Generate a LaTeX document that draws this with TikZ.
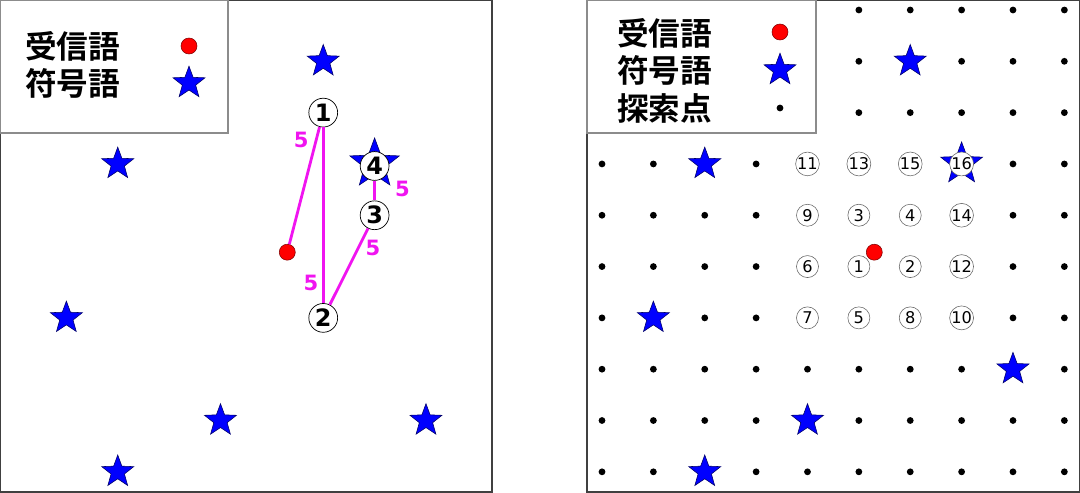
\documentclass[tikz,border=0pt]{standalone}
\usepackage{fontspec}
\usetikzlibrary{shapes.geometric}
\newfontfamily\jpfont{Noto Sans CJK JP Bold}
\newfontfamily\numfont{DejaVu Sans}
\definecolor{routecol}{RGB}{240,20,240}

\tikzset{
  panel/.style={draw=black!75, line width=0.8pt},
  legendbox/.style={draw=black!45, line width=0.8pt, fill=white},
  legendtext/.style={anchor=west, inner sep=0pt, font=\jpfont\fontsize{22.5pt}{24pt}\selectfont},
  codeword/.style={star, star points=5, star point ratio=2.4, fill=blue, draw=blue!40!black, line width=0.4pt, minimum size=0.84cm, inner sep=0pt},
  received/.style={circle, fill=red, draw=red!50!black, line width=0.4pt, minimum size=0.4cm, inner sep=0pt},
  searchpt/.style={circle, fill=black, minimum size=0.17cm, inner sep=0pt},
  visit/.style={circle, fill=white, draw=black, line width=0.5pt, minimum size=0.72cm, inner sep=0pt, font=\numfont\bfseries\fontsize{17pt}{17pt}\selectfont},
  order/.style={circle, fill=white, draw=black!60, line width=0.4pt, minimum size=0.55cm, inner sep=0pt, font=\numfont\fontsize{11.5pt}{11.5pt}\selectfont},
  route/.style={draw=routecol, line width=2pt},
  weight/.style={text=routecol, inner sep=0pt, font=\numfont\bfseries\fontsize{15pt}{15pt}\selectfont},
}

\begin{document}
\begin{tikzpicture}[x=0.025cm, y=-0.025cm]
    \useasboundingbox (0,0) rectangle (1080,493);

    % left panel
    \draw[panel] (0.5,0.5) rectangle (492,492);
    \begin{scope}[shift={(15,10)}, x=1.284cm, y=-1.2825cm]
        \node[codeword] (c1) at (6,1) {};
        \node[codeword] (c2) at (2,3) {};
        \node[codeword] (c3) at (1,6) {};
        \node[codeword] (c4) at (4,8) {};
        \node[codeword] (c5) at (8,8) {};
        \node[codeword] (c6) at (2,9) {};
        \node[codeword, minimum size=1.3cm] (c7) at (7,3) {};

        \node[visit] (v1) at (6,2) {1};
        \node[visit] (v2) at (6,6) {2};
        \node[visit] (v3) at (7,4) {3};
        \node[visit] (v4) at (7,3.04) {4};
        \node[received] (rx) at (5.3,4.72) {};

        \draw[route] (rx) -- (v1);
        \draw[route] (v1) -- (v2);
        \draw[route] (v2) -- (v3);
        \draw[route] (v3) -- (v4);

        \node[weight] (w1) at (5.57,2.53) {5};
        \node[weight] (w2) at (5.76,5.32) {5};
        \node[weight] (w3) at (6.97,4.64) {5};
        \node[weight] (w4) at (7.54,3.49) {5};
    \end{scope}

    \draw[legendbox] (0.5,0.5) rectangle (228,133);
    \node[legendtext] (lrx) at (25,46) {受信語};
    \node[legendtext] (lcw) at (25,83) {符号語};
    \node[received] (mrx) at (189,46) {};
    \node[codeword] (mcw) at (189,83) {};

    % right panel
    \draw[panel] (587,0.5) rectangle (1079.5,492);
    \begin{scope}[shift={(602,10)}, x=1.284cm, y=-1.2825cm]
        \foreach \r/\cols in {0/{5,6,7,8,9}, 1/{5,7,8,9}, 2/{5,6,7,8,9},
                3/{0,1,3,8,9}, 4/{0,1,2,3,8,9}, 5/{0,1,2,3,8,9},
                6/{0,2,3,8,9}, 7/{0,1,2,3,4,5,6,7,9},
                8/{0,1,2,3,5,6,7,8,9}, 9/{0,1,3,4,5,6,7,8,9}}
            \foreach \c in \cols
                \node[searchpt] (p-\r-\c) at (\c,\r) {};

        \foreach \c/\r [count=\i] in {6/1, 2/3, 1/6, 8/7, 4/8, 2/9}
            \node[codeword] (d\i) at (\c,\r) {};
        \node[codeword, minimum size=1.1cm] (d7) at (7,3) {};

        \foreach \c/\r/\k in {4/3/11, 5/3/13, 6/3/15, 7/3/16,
                4/4/9, 5/4/3, 6/4/4, 7/4/14,
                4/5/6, 5/5/1, 6/5/2, 7/5/12,
                4/6/7, 5/6/5, 6/6/8, 7/6/10}
            \node[order] (o\k) at (\c,\r) {\k};

        \node[received] (ry) at (5.3,4.72) {};
    \end{scope}

    \draw[legendbox] (587,0.5) rectangle (816,133);
    \node[legendtext] (rrx) at (617,33) {受信語};
    \node[legendtext] (rcw) at (617,70) {符号語};
    \node[legendtext] (rsp) at (617,108) {探索点};
    \node[received] (nrx) at (780,32) {};
    \node[codeword] (ncw) at (780,70) {};
    \node[searchpt] (nsp) at (780,108) {};
\end{tikzpicture}
\end{document}
